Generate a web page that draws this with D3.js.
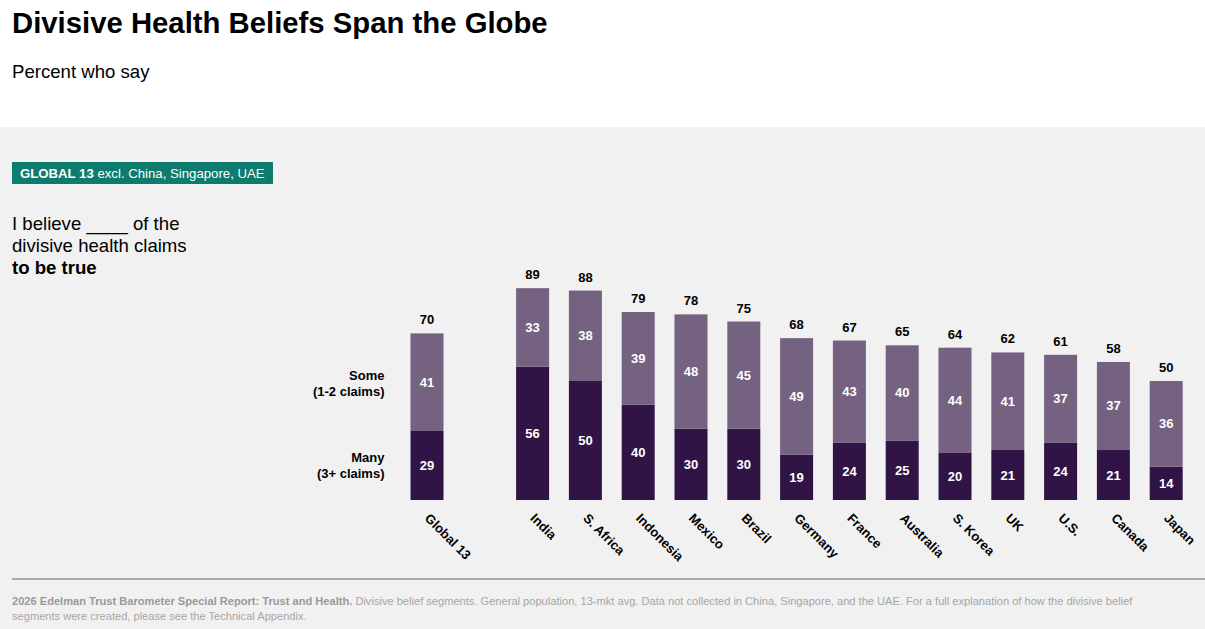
<!DOCTYPE html>
<html>
<head>
<meta charset="utf-8">
<script src="https://cdn.jsdelivr.net/npm/d3@7"></script>
<style>
  body { margin: 0; background: #fff; font-family: "Liberation Sans", Arial, sans-serif; }
  svg { display: block; }
</style>
</head>
<body>
<svg id="chart" width="1205" height="629"></svg>
<script>
    // Chart data
    const countries = ["Global 13", "India", "S. Africa", "Indonesia", "Mexico", "Brazil", "Germany",
        "France", "Australia", "S. Korea", "UK", "U.S.", "Canada", "Japan"];
    const many = [29, 56, 50, 40, 30, 30, 19, 24, 25, 20, 21, 24, 21, 14];
    const some = [41, 33, 38, 39, 48, 45, 49, 43, 40, 44, 41, 37, 37, 36];
    const totals = [70, 89, 88, 79, 78, 75, 68, 67, 65, 64, 62, 61, 58, 50];

    const width = 1205;
    const height = 629;

    const colorMany = "#301446";
    const colorSome = "#756180";

    const svg = d3.select("#chart");

    // Gray panel
    svg.append("rect")
        .attr("x", 0).attr("y", 127)
        .attr("width", width).attr("height", height - 127)
        .attr("fill", "#f1f1f1");

    // Title and subtitle
    svg.append("text")
        .attr("x", 12).attr("y", 33)
        .attr("font-size", 29.3).attr("font-weight", "bold")
        .attr("fill", "#000")
        .text("Divisive Health Beliefs Span the Globe");

    svg.append("text")
        .attr("x", 12).attr("y", 78)
        .attr("font-size", 18.6)
        .attr("fill", "#000")
        .text("Percent who say");

    // Badge
    svg.append("rect")
        .attr("x", 12).attr("y", 162)
        .attr("width", 261).attr("height", 22)
        .attr("fill", "#0d7b6e");

    const badge = svg.append("text")
        .attr("x", 20).attr("y", 178)
        .attr("font-size", 13.2)
        .attr("fill", "#fff");
    badge.append("tspan").attr("font-weight", "bold").text("GLOBAL 13");
    badge.append("tspan").text(" excl. China, Singapore, UAE");

    // Question text
    const q = svg.append("text")
        .attr("font-size", 18.6)
        .attr("fill", "#000");
    q.append("tspan").attr("x", 12).attr("y", 230).text("I believe ____ of the");
    q.append("tspan").attr("x", 12).attr("y", 252).text("divisive health claims");
    q.append("tspan").attr("x", 12).attr("y", 274).attr("font-weight", "bold").text("to be true");

    // Scales (an empty slot separates Global 13 from the markets)
    const slots = [countries[0], "__gap", ...countries.slice(1)];
    const x = d3.scaleBand()
        .domain(slots)
        .range([400.6, 1192.6])
        .paddingInner(0.375)
        .paddingOuter(0.1875);

    const y = d3.scaleLinear()
        .domain([0, 100])
        .range([500, 262]);

    const rows = countries.map((c, i) => ({ country: c, many: many[i], some: some[i], total: totals[i] }));

    const bars = svg.append("g")
      .selectAll("g")
      .data(rows)
      .join("g")
        .attr("transform", d => `translate(${x(d.country)},0)`);

    bars.append("rect")
        .attr("y", d => y(d.many))
        .attr("width", x.bandwidth())
        .attr("height", d => y(0) - y(d.many))
        .attr("fill", colorMany);

    bars.append("rect")
        .attr("y", d => y(d.many + d.some))
        .attr("width", x.bandwidth())
        .attr("height", d => y(d.many) - y(d.many + d.some))
        .attr("fill", colorSome);

    // Segment values
    bars.append("text")
        .attr("x", x.bandwidth() / 2)
        .attr("y", d => (y(0) + y(d.many)) / 2 + 4.5)
        .attr("text-anchor", "middle")
        .attr("font-size", 13).attr("font-weight", "bold")
        .attr("fill", "#fff")
        .text(d => d.many);

    bars.append("text")
        .attr("x", x.bandwidth() / 2)
        .attr("y", d => (y(d.many) + y(d.many + d.some)) / 2 + 4.5)
        .attr("text-anchor", "middle")
        .attr("font-size", 13).attr("font-weight", "bold")
        .attr("fill", "#fff")
        .text(d => d.some);

    // Totals
    bars.append("text")
        .attr("x", x.bandwidth() / 2)
        .attr("y", d => y(d.total) - 9)
        .attr("text-anchor", "middle")
        .attr("font-size", 13).attr("font-weight", "bold")
        .attr("fill", "#000")
        .text(d => d.total);

    // Rotated category labels
    svg.append("g")
      .selectAll("text")
      .data(rows)
      .join("text")
        .attr("transform", d => `translate(${x(d.country) + x.bandwidth() / 2 - 3},${519}) rotate(45)`)
        .attr("font-size", 13).attr("font-weight", "bold")
        .attr("fill", "#000")
        .text(d => d.country);

    // Segment legend labels beside Global 13
    const legendX = x(countries[0]) - 26;
    const seg = svg.append("g")
        .attr("text-anchor", "end")
        .attr("font-size", 13).attr("font-weight", "bold")
        .attr("fill", "#000");
    const someMid = (y(many[0]) + y(totals[0])) / 2;
    const manyMid = (y(0) + y(many[0])) / 2;
    seg.append("text").attr("x", legendX).attr("y", someMid - 2).text("Some");
    seg.append("text").attr("x", legendX).attr("y", someMid + 14).text("(1-2 claims)");
    seg.append("text").attr("x", legendX).attr("y", manyMid - 3).text("Many");
    seg.append("text").attr("x", legendX).attr("y", manyMid + 13).text("(3+ claims)");

    // Footer rule and note
    svg.append("line")
        .attr("x1", 12).attr("x2", width)
        .attr("y1", 579).attr("y2", 579)
        .attr("stroke", "#aaaaaa").attr("stroke-width", 2);

    const note = svg.append("text")
        .attr("font-size", 11.1)
        .attr("fill", "#a6a6a6");
    const line1 = note.append("tspan").attr("x", 12).attr("y", 605);
    line1.append("tspan").attr("font-weight", "bold").attr("fill", "#999")
        .text("2026 Edelman Trust Barometer Special Report: Trust and Health.");
    line1.append("tspan")
        .text(" Divisive belief segments. General population, 13-mkt avg. Data not collected in China, Singapore, and the UAE. For a full explanation of how the divisive belief");
    note.append("tspan").attr("x", 12).attr("y", 620)
        .text("segments were created, please see the Technical Appendix.");
</script>
</body>
</html>
